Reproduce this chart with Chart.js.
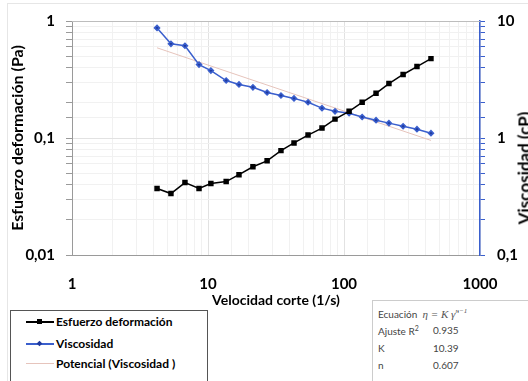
<!DOCTYPE html>
<html lang="es">
<head>
<meta charset="utf-8">
<title>Esfuerzo deformación y viscosidad</title>
<script src="https://cdn.jsdelivr.net/npm/chart.js@4.4.1/dist/chart.umd.min.js"></script>
<style>
  body { margin: 0; background: #fff; }
  #wrap { position: relative; width: 528px; height: 381px; overflow: hidden; font-family: Lato, sans-serif; }
  #frame { position: absolute; left: 7px; top: 3px; right: -2px; bottom: -2px; border-left: 1px solid #e6e6e6; border-top: 1px solid #e6e6e6; }
  #chart { position: absolute; left: 0; top: 0; }
  #y1title {
    position: absolute; left: 524px; top: 168px; white-space: nowrap;
    transform: translate(-50%, -50%) rotate(-90deg);
    font: bold 17px Lato, sans-serif; color: #000;
  }
  .legend { position: absolute; left: 10px; top: 310px; width: 196px; height: 72px; border: 1px solid #555; background: #fff; font: bold 12px Lato, sans-serif; color: #000; }
  .legend .row { position: absolute; left: 0; height: 18px; line-height: 18px; }
  .legend .swatch { position: absolute; left: 15px; top: 8px; width: 28px; height: 2px; }
  .legend .dot { position: absolute; left: 11px; top: -2px; width: 5px; height: 5px; }
  .legend .label { position: absolute; left: 45px; top: 0; white-space: nowrap; }
  .fit { position: absolute; left: 372px; top: 300px; right: 0; bottom: 0; border-left: 1px solid #ccc; border-top: 1px solid #ccc; background: #fff; font: 10px Lato, sans-serif; color: #444; }
  .fit div { position: absolute; left: 5px; white-space: nowrap; }
  .fit .val { left: 60px; }
  .eq { font: italic 11px "Liberation Serif", serif; color: #555; }
</style>
</head>
<body>
<div id="wrap">
  <div id="frame"></div>
  <canvas id="chart" width="528" height="381"></canvas>
  <div id="y1title">Viscosidad (cP)</div>

  <div class="legend">
    <div class="row" style="top:2px">
      <span class="swatch" style="background:#000"><span class="dot" style="background:#000"></span></span>
      <span class="label">Esfuerzo deformación</span>
    </div>
    <div class="row" style="top:24px">
      <span class="swatch" style="background:#3a5fcd"><span class="dot" style="background:#1f3a9e;transform:rotate(45deg) scale(0.8)"></span></span>
      <span class="label">Viscosidad</span>
    </div>
    <div class="row" style="top:44px">
      <span class="swatch" style="background:#e6c4bc;height:1px"></span>
      <span class="label">Potencial (Viscosidad )</span>
    </div>
  </div>

  <div class="fit">
    <div style="top:6px">Ecuación <span class="eq">&nbsp;η = K γ̇<sup style="font-size:7px">n−1</sup></span></div>
    <div style="top:23px">Ajuste R<sup style="font-size:7px">2</sup></div>
    <div class="val" id="fitR2" style="top:23px"></div>
    <div style="top:41px">K</div>
    <div class="val" id="fitK" style="top:41px"></div>
    <div style="top:58px">n</div>
    <div class="val" id="fitN" style="top:58px"></div>
  </div>
</div>

<script>
// Shear rate (1/s), shear stress (Pa) and viscosity (cP)
const shearRate = [4.22, 5.34, 6.77, 8.59, 10.5, 13.6, 16.9, 21.4, 27.2, 34.4, 42.9,
  54.4, 68.9, 85.9, 109, 136, 172, 214, 272, 344, 436];
const stress = [0.037, 0.0335, 0.0416, 0.037, 0.0408, 0.0424, 0.0486, 0.0568, 0.0638, 0.078, 0.0907,
  0.106, 0.1215, 0.145, 0.169, 0.202, 0.241, 0.292, 0.349, 0.408, 0.477];
const viscosity = [8.73, 6.38, 6.14, 4.24, 3.77, 3.10, 2.87, 2.71, 2.45, 2.31, 2.18,
  2.02, 1.80, 1.69, 1.63, 1.51, 1.42, 1.34, 1.26, 1.19, 1.10];

// labelled ticks of each axis
const rateTicks = [1, 10, 100, 1000];
const stressTicks = [0.01, 0.1, 1];
const viscTicks = [0.1, 1, 10];

// power law fit of the viscosity
const fitK = 10.39;
const fitN = 0.607;
const fitR2 = 0.935;

document.getElementById('fitK').textContent = fitK.toFixed(2);
document.getElementById('fitN').textContent = fitN.toFixed(3);
document.getElementById('fitR2').textContent = fitR2.toFixed(3);

const powerLaw = (rate) => fitK * Math.pow(rate, fitN - 1);
const trendEnds = [shearRate[0], shearRate[shearRate.length - 1]];

const isLabelled = (list, v) => list.some((t) => Math.abs(t - v) / t < 1e-6);
const commaLabel = (list) => (v) => (isLabelled(list, v) ? String(v).replace('.', ',') : '');
const gridColor = (list) => (c) => (c.tick && isLabelled(list, c.tick.value) ? '#e2e2e2' : '#f1f1f1');

const tickFont = { family: 'Lato', size: 15, weight: 'bold' };

const topLine = {
  id: 'topLine',
  afterDraw(chart) {
    const { ctx, chartArea } = chart;
    ctx.save();
    ctx.strokeStyle = '#bdbdbd';
    ctx.lineWidth = 1;
    ctx.beginPath();
    ctx.moveTo(chartArea.left, chartArea.top + 0.5);
    ctx.lineTo(chartArea.right, chartArea.top + 0.5);
    ctx.stroke();
    ctx.restore();
  },
};

new Chart(document.getElementById('chart'), {
  type: 'line',
  data: {
    datasets: [
      {
        label: 'Esfuerzo deformación',
        data: shearRate.map((x, i) => ({ x, y: stress[i] })),
        yAxisID: 'y',
        borderColor: '#000',
        backgroundColor: '#000',
        borderWidth: 1.5,
        pointStyle: 'rect',
        pointRadius: 2.8,
      },
      {
        label: 'Viscosidad',
        data: shearRate.map((x, i) => ({ x, y: viscosity[i] })),
        yAxisID: 'y1',
        borderColor: '#3a5fcd',
        backgroundColor: '#1f3a9e',
        borderWidth: 1.5,
        pointStyle: 'rectRot',
        pointRadius: 2.5,
      },
      {
        label: 'Potencial (Viscosidad )',
        data: trendEnds.map((x) => ({ x, y: powerLaw(x) })),
        yAxisID: 'y1',
        borderColor: '#e6c4bc',
        borderWidth: 1,
        pointRadius: 0,
      },
    ],
  },
  options: {
    responsive: false,
    animation: false,
    layout: { padding: { top: 19, left: 0, right: 0, bottom: 0 } },
    plugins: { legend: { display: false }, tooltip: { enabled: false } },
    scales: {
      x: {
        type: 'logarithmic',
        position: 'bottom',
        min: 1,
        max: 1000,
        afterFit: (s) => { s.height = 126; },
        border: { color: '#9a9a9a' },
        grid: { color: gridColor(rateTicks), drawTicks: false },
        ticks: { font: tickFont, color: '#000', padding: 20, autoSkip: false, maxRotation: 0, callback: commaLabel(rateTicks) },
        title: {
          display: true,
          text: 'Velocidad corte (1/s)',
          color: '#000',
          font: { family: 'Lato', size: 14, weight: 'bold' },
          padding: { top: 0, bottom: 72 },
        },
      },
      y: {
        type: 'logarithmic',
        position: 'left',
        min: 0.01,
        max: 1,
        afterFit: (s) => { s.width = 72; },
        border: { color: '#9a9a9a' },
        grid: { color: gridColor(stressTicks), tickColor: '#9a9a9a', tickLength: 6 },
        ticks: { font: tickFont, color: '#000', padding: 11, autoSkip: false, callback: commaLabel(stressTicks) },
        title: {
          display: true,
          text: 'Esfuerzo deformación (Pa)',
          color: '#000',
          font: { family: 'Lato', size: 16, weight: 'bold' },
          padding: { top: 8, bottom: 0 },
        },
      },
      y1: {
        type: 'logarithmic',
        position: 'right',
        min: 0.1,
        max: 10,
        afterFit: (s) => { s.width = 48; },
        border: { color: '#3a5fcd', width: 1.5 },
        grid: { drawOnChartArea: false, tickColor: '#3a5fcd', tickLength: 5 },
        ticks: { font: tickFont, color: '#000', padding: 12, autoSkip: false, callback: commaLabel(viscTicks) },
      },
    },
  },
  plugins: [topLine],
});
</script>
</body>
</html>
